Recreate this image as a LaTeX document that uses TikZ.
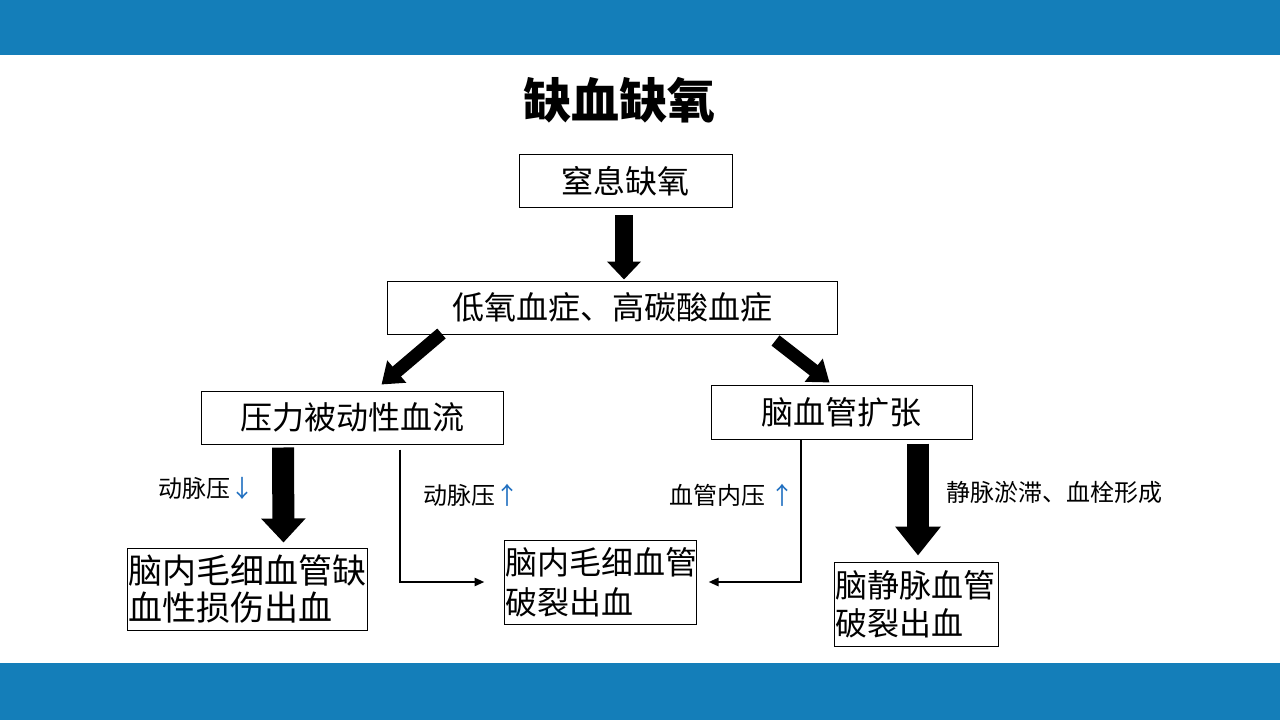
\documentclass[tikz,border=0pt]{standalone}
\usepackage{fontspec}
\setmainfont{Noto Sans CJK SC}
\usepackage{tikz}
\usetikzlibrary{arrows.meta, calc}
\definecolor{barblue}{RGB}{20,126,185}
\definecolor{upblue}{RGB}{31,111,192}
\newdimen\pix \pix=0.75pt
\tikzstyle{fatarrow} = [line width=22\pix, -{Triangle[width=33pt, length=19.5pt]}]
\tikzstyle{slantarrow} = [line width=13\pix, -{Triangle[width=21pt, length=15pt]}]
\tikzstyle{elbow} = [line width=2.5\pix, -{Triangle[width=6pt, length=7.5pt]}]

\begin{document}
\begin{tikzpicture}[
    x=0.75pt, y=-0.75pt,
    box/.style={draw, line width=0.75pt, inner sep=0pt, font=\fontsize{24pt}{30pt}\selectfont},
    twoline/.style={box, align=left, inner xsep=1\pix},
    note/.style={anchor=west, inner sep=0pt, font=\fontsize{18pt}{22pt}\selectfont},
  ]
  \useasboundingbox (0,0) rectangle (1280,720);
  \fill[barblue] (0,0) rectangle (1280,55);
  \fill[barblue] (0,663) rectangle (1280,720);

  \node[font=\fontsize{36pt}{40pt}\selectfont\bfseries] (title) at (619,100) {缺血缺氧};

  \node[box, minimum width=213\pix, minimum height=53\pix] (suffoc) at (625.5,181.5) {窒息缺氧};
  \node[box, minimum width=450\pix, minimum height=53\pix] (hypox) at (612,307.5) {低氧血症、高碳酸血症};
  \node[box, minimum width=302\pix, minimum height=53\pix] (passive) at (352,417.5) {压力被动性血流};
  \node[box, minimum width=261\pix, minimum height=54\pix] (dilat) at (841.5,412) {脑血管扩张};

  \node[twoline, text width=238\pix, minimum height=82\pix, font=\fontsize{25.5pt}{28pt}\selectfont] (capisch) at (247,589)
    {脑内毛细血管缺\\血性损伤出血};
  \node[twoline, text width=190\pix, minimum height=84\pix, font=\fontsize{24pt}{30pt}\selectfont] (caprup) at (600,582)
    {脑内毛细血管\\破裂出血};
  \node[twoline, text width=162\pix, minimum height=84\pix, font=\fontsize{24pt}{28.5pt}\selectfont] (venous) at (916,604)
    {脑静脉血管\\破裂出血};

  \node[note] (artdown) at (158,488) {动脉压{\color{upblue}↓}};
  \node[note] (artup) at (423,495) {动脉压{\color{upblue}↑}};
  \node[note] (vesup) at (669,495) {血管内压 {\color{upblue}↑}};
  \node[note] (stasis) at (946,492) {静脉淤滞、血栓形成};

  \draw[fatarrow, line width=18\pix, -{Triangle[width=24.75pt, length=13.5pt]}]
    ([shift={(-1.5,7)}]suffoc.south) -- ([shift={(12,-1)}]hypox.north);
  \draw[slantarrow] ([shift={(55,-1)}]hypox.south west) -- ([shift={(181,-6)}]passive.north west);
  \draw[slantarrow] ([shift={(-62,6)}]hypox.south east) -- ([shift={(119,-2)}]dilat.north west);
  \draw[fatarrow, -{Triangle[width=32.25pt, length=18pt]}]
    ([shift={(-69,3)}]passive.south) -- ([shift={(36.5,-5)}]capisch.north);
  \draw[fatarrow, -{Triangle[width=33pt, length=21.75pt]}]
    ([shift={(76.5,4)}]dilat.south) -- ([shift={(2,-6)}]venous.north);
  \draw[elbow] ([shift={(48,5)}]passive.south) |- ([shift={(-19,0)}]caprup.west);
  \draw[elbow] ([shift={(-40.5,0)}]dilat.south) |- ([shift={(12,0)}]caprup.east);
\end{tikzpicture}
\end{document}
